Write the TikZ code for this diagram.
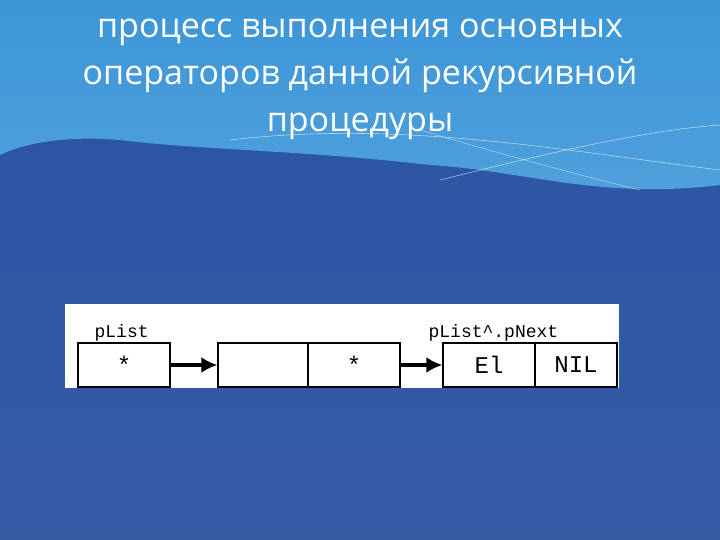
\documentclass[tikz,border=0pt]{standalone}
\usepackage{fontspec}
\setmainfont{Open Sans}
\setmonofont{Liberation Mono}
\begin{document}
\begin{tikzpicture}[x=1pt,y=-1pt,
  cell/.style={draw=black,line width=1.2pt,fill=white,minimum height=44pt,inner sep=0pt,font=\ttfamily\fontsize{24}{24}\selectfont},
  lab/.style={font=\ttfamily\fontsize{18}{18}\selectfont,anchor=south west,inner sep=1pt},
  arr/.style={line width=4pt,-{Latex[length=16pt,width=16pt]}}]
\usetikzlibrary{arrows.meta}
\useasboundingbox (0,0) rectangle (720,540);
\shade[top color={rgb,255:red,40;green,85;blue,165},bottom color={rgb,255:red,55;green,90;blue,165}] (0,0) rectangle (720,540);
\shade[top color={rgb,255:red,60;green,150;blue,215},bottom color={rgb,255:red,80;green,160;blue,220}]
  (0,0) -- (720,0) -- (720,185) .. controls (600,200) and (520,170) .. (430,165) .. controls (300,150) and (200,150) .. (120,140) .. controls (60,135) and (20,145) .. (0,155) -- cycle;
\draw[white,opacity=0.6,line width=0.6pt] (230,140) .. controls (400,120) and (560,150) .. (720,170);
\draw[white,opacity=0.6,line width=0.6pt] (440,180) .. controls (560,150) and (650,130) .. (720,125);
\draw[white,opacity=0.5,line width=0.6pt] (420,130) .. controls (520,160) and (600,180) .. (640,190);
\node[white,align=center,font=\fontsize{34}{47}\selectfont] (title) at (360,79) {процесс выполнения основных\\операторов данной рекурсивной\\процедуры};
\fill[white] (65,304) rectangle (619,388);
\node[cell,minimum width=92pt] (c1) at (124,365) {*};
\node[cell,minimum width=90pt] (c2) at (263,365) {};
\node[cell,minimum width=92pt] (c3) at (354,365) {*};
\node[cell,minimum width=92pt] (c4) at (489,365) {El};
\node[cell,minimum width=82pt] (c5) at (576,365) {NIL};
\node[lab] (l1) at ([xshift=16pt]c1.north west) {pList};
\node[lab] (l2) at ([xshift=-15pt]c4.north west) {pList\textasciicircum.pNext};
\draw[arr] (c1.east) -- (c2.west);
\draw[arr] (c3.east) -- (c4.west);
\end{tikzpicture}
\end{document}
